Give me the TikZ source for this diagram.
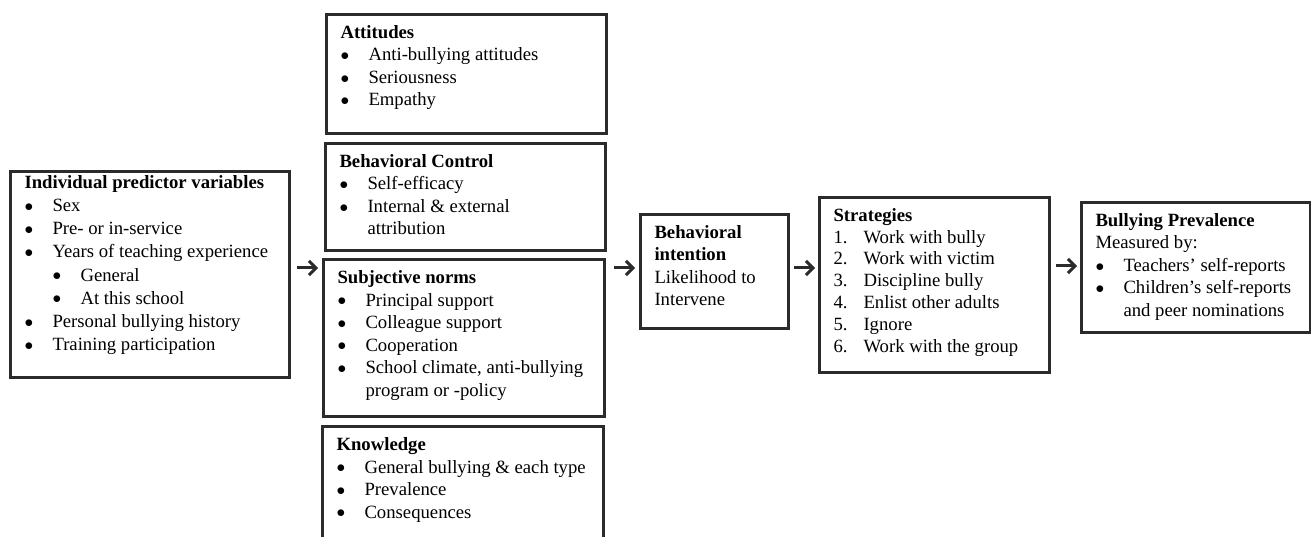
\documentclass[tikz,border=0pt]{standalone}
\usepackage{fontspec}
\setmainfont{Liberation Serif}
\usetikzlibrary{arrows.meta, positioning, calc}

\definecolor{framec}{HTML}{2B2B2B}

% list lines inside the boxes
\newcommand{\dotmark}{\raisebox{0.3pt}{$\bullet$}}
\newcommand{\bitem}[1]{\par\hangindent=28pt\hangafter=1\noindent\makebox[28pt][l]{\dotmark}#1}
\newcommand{\bbitem}[1]{\par\hangindent=56pt\hangafter=1\noindent\hspace*{28pt}\makebox[28pt][l]{\dotmark}#1}
\newcommand{\nitem}[2]{\par\hangindent=30pt\hangafter=1\noindent\makebox[30pt][l]{#1.}#2}
\newcommand{\boxtext}[3]{\parbox[c][#2][t]{#1}{\raggedright\strut#3}}

\begin{document}
\begin{tikzpicture}[x=1pt, y=-1pt,
    box/.style={draw=framec, line width=3pt, anchor=north west,
                inner xsep=14pt, inner ysep=8.25pt,
                font=\fontsize{18.7}{22.5}\selectfont},
    arr/.style={draw=framec, line width=3pt, -{Straight Barb[length=7pt, width=14pt]}}]
  \clip (0,0) rectangle (1311,537);

  % predictors
  \node[box, inner ysep=0.5pt, font=\fontsize{18.7}{23.2}\selectfont] (indiv) at (9,170) {\boxtext{251pt}{205pt}{%
    \textbf{Individual predictor variables}
    \bitem{Sex}
    \bitem{Pre- or in-service}
    \bitem{Years of teaching experience}
    \bbitem{General}
    \bbitem{At this school}
    \bitem{Personal bullying history}
    \bitem{Training participation}}};

  % middle column
  \node[box] (att) at (325,13) {\boxtext{252pt}{102.5pt}{%
    \textbf{Attitudes}
    \bitem{Anti-bullying attitudes}
    \bitem{Seriousness}
    \bitem{Empathy}}};
  \node[box] (ctrl) at (324,142) {\boxtext{252pt}{90.5pt}{%
    \textbf{Behavioral Control}
    \bitem{Self-efficacy}
    \bitem{Internal \& external\newline attribution}}};
  \node[box] (norms) at (322,258) {\boxtext{253pt}{140.5pt}{%
    \textbf{Subjective norms}
    \bitem{Principal support}
    \bitem{Colleague support}
    \bitem{Cooperation}
    \bitem{School climate, anti-bullying\newline program or -policy}}};
  \node[box] (know) at (321,425) {\boxtext{253pt}{113.5pt}{%
    \textbf{Knowledge}
    \bitem{General bullying \& each type}
    \bitem{Prevalence}
    \bitem{Consequences}}};

  % intention, strategies, outcome
  \node[box] (intent) at (639,213) {\boxtext{120pt}{97.5pt}{%
    \textbf{Behavioral}\\\textbf{intention}\\Likelihood to\\Intervene}};
  \node[box, inner ysep=8.5pt, font=\fontsize{18.7}{21.8}\selectfont] (strat) at (818,196) {\boxtext{202pt}{158pt}{%
    \textbf{Strategies}
    \nitem{1}{Work with bully}
    \nitem{2}{Work with victim}
    \nitem{3}{Discipline bully}
    \nitem{4}{Enlist other adults}
    \nitem{5}{Ignore}
    \nitem{6}{Work with the group}}};
  \node[box] (prev) at (1080,201) {\boxtext{201pt}{113.5pt}{%
    \textbf{Bullying Prevalence}\\Measured by:
    \bitem{Teachers' self-reports}
    \bitem{Children's self-reports\newline and peer nominations}}};

  % arrows
  \coordinate (ay) at (0,268);
  \coordinate (by) at (0,266);
  \draw[arr, shorten <=6pt, shorten >=4pt] (indiv.east |- ay) -- (norms.west |- ay);
  \draw[arr, shorten <=8pt, shorten >=4pt] (norms.east |- ay) -- (intent.west |- ay);
  \draw[arr, shorten <=4pt, shorten >=3pt] (intent.east |- ay) -- (strat.west |- ay);
  \draw[arr, shorten <=5pt, shorten >=3pt] (strat.east |- by) -- (prev.west |- by);
\end{tikzpicture}
\end{document}
